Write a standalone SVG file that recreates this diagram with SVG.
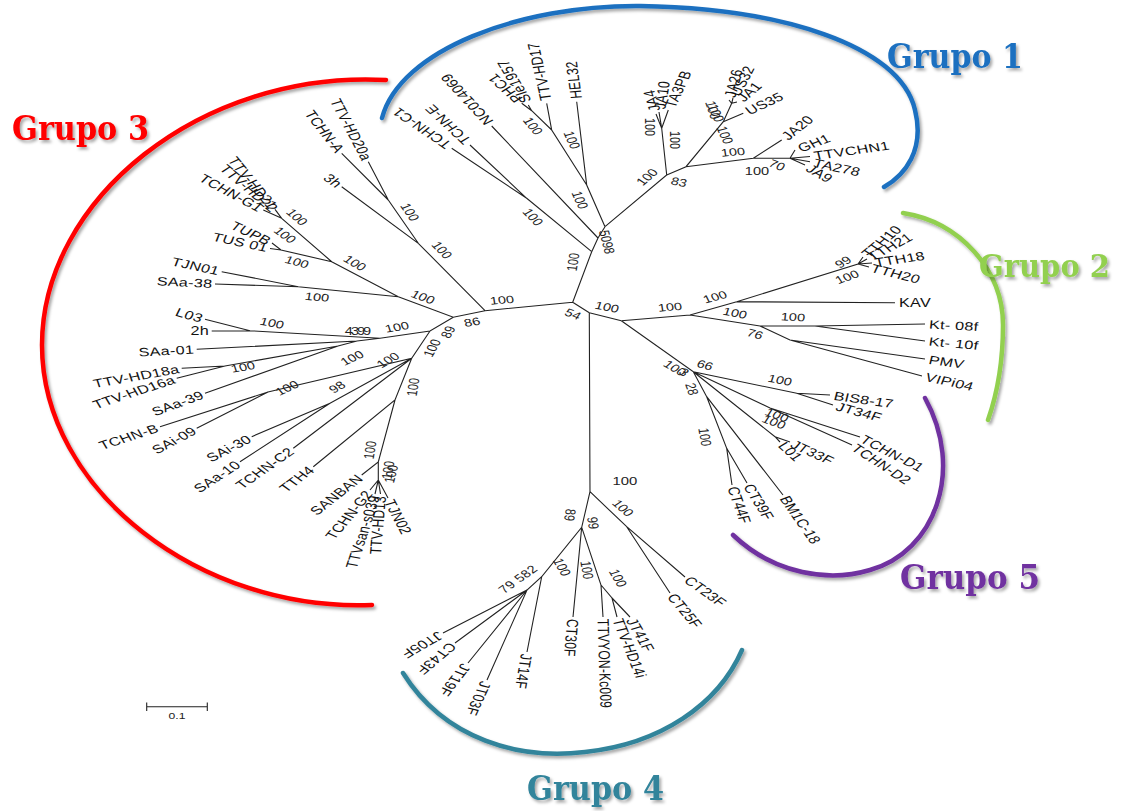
<svg xmlns="http://www.w3.org/2000/svg" width="1123" height="811" viewBox="0 0 1123 811">
<defs>
<filter id="sh" x="-10%" y="-10%" width="130%" height="130%"><feDropShadow dx="2" dy="2.5" stdDeviation="1.5" flood-color="#000" flood-opacity="0.35"/></filter>
<style>
.lf{font-family:"Liberation Sans",Arial,sans-serif;font-size:12px;letter-spacing:0.2px;fill:#111}
.e{text-anchor:end}
.bs{font-family:"Liberation Sans",Arial,sans-serif;font-size:10.8px;fill:#222;text-anchor:middle}
.ed{fill:none;stroke:#222;stroke-width:1.1}
.arc{fill:none;stroke-width:4.5;stroke-linecap:round;filter:url(#sh)}
.gl{font-family:"DejaVu Serif",serif;font-size:34px;font-weight:bold;filter:url(#sh)}
</style>
</defs>
<rect width="1123" height="811" fill="#fff"/>
<g id="arcs">
<path class="arc" stroke="#1b70c0" d="M382,118 C400,50 520,5 640,6 C780,8 900,45 915,110 C925,150 905,175 884,187"/>
<path class="arc" stroke="#92d050" d="M903,213 C960,222 1003,270 1003,325 C1003,370 995,400 988,420"/>
<path class="arc" stroke="#ff0000" d="M386,80 C200,70 42,200 42,345 C42,490 200,612 372,605"/>
<path class="arc" stroke="#31849b" d="M403,673 C445,740 520,760 585,752 C660,744 718,705 742,650"/>
<path class="arc" stroke="#7030a0" d="M733,535 C775,575 830,582 870,570 C935,552 965,470 925,398"/>
</g>
<g id="connectors">
<path class="ed" d="M572.7,302.3L589.3,312.7M589.3,312.7L590,491.7M589.3,312.7L621.3,320.7M572.7,302.3L485,310.7M572.7,302.3L591.7,251.7"/>
<path class="ed" d="M591.7,251.7L526.7,198.3L451.7,148.3M526.7,198.3L470,145M591.7,251.7L598,238L605,226.7M598,238L491.7,126M605,226.7L586.7,185L576.7,101.7M586.7,185L551.7,130L546.7,103.3M551.7,130L531.7,110.7L521.7,103.3M531.7,110.7L528.3,105M605,226.7L666.7,175L661.7,128.3L656,114M661.7,128.3L659,112M661.7,128.3L668.3,110M666.7,175L686,166.7L723.3,121.7L731.7,103.3L729,100M731.7,103.3L733,98M731.7,103.3L737,102M723.3,121.7L743.3,113.3M686,166.7L753.3,158.3L781.7,140M753.3,158.3L790,158.3L795,150M790,158.3L810,156.5M790,158.3L810,161.7M790,158.3L805,165"/>
<path class="ed" d="M485,310.7L418.3,243.3L341.7,186.7M418.3,243.3L388.3,200L368.3,161.7M388.3,200L341.7,153.3M485,310.7L453.3,317.3L398.3,296.7L331.7,261.7L281.7,218.3L275,209.3M281.7,218.3L276.7,211.7M281.7,218.3L263.3,210M331.7,261.7L281,250L272,243M281,250L270,248.5M398.3,296.7L298.3,286.7L221.7,271.7M298.3,286.7L215,284M453.3,317.3L430,331L380,338.3L250,330.7L205,319.3M250,330.7L211.7,331M380,338.3L357,341L196.7,349.3M357,341L338,346L225,366L181.7,368.3M225,366L176.7,378.3M338,346L205,393.3M430,331L411.7,358.3L268,392L160,426.7M268,392L196.7,428.3M411.7,358.3L330,403.3L251.7,436.7M330,403.3L240,461.7M411.7,358.3L293.3,448.3M411.7,358.3L395,400L313.3,466.7M395,400L378.3,462L361.7,475M378.3,462L378.3,480L370,490M378.3,480L375,494M378.3,480L380.5,494M378.3,480L388,498"/>
<path class="ed" d="M621.3,320.7L690,315L736.7,301.7L858,264L863,257M858,264L867,259M858,264L872,263M858,264L869,267M736.7,301.7L895,302.7M690,315L760,326L815,326L925,324M815,326L925,341M760,326L790,340L925,359M790,340L922,376M621.3,320.7L693.3,371.7L796.7,393.3L830,395M796.7,393.3L833,405M693.3,371.7L770,408L860,437M770,408L852,445M693.3,371.7L775,436.7L790,442M775,436.7L780,442M693.3,371.7L706.7,396.7L783,495M706.7,396.7L726.7,448.3L732,485M726.7,448.3L747,483"/>
<path class="ed" d="M590,491.7L581.7,527.3L541.7,576.7L527,652M541.7,576.7L527,590L487,680M527,590L468,663M527,590L455,643M527,590L443,633M581.7,527.3L573,617M581.7,527.3L601,585L603,617M601,585L612,598L617,617M612,598L630,617M590,491.7L626.7,526.7L685,577M626.7,526.7L670,593"/>
</g>
<g id="group1-leaves">
<g id="n-TCHN-C1"><text class="lf" transform="translate(451.7,148.3) scale(1.35,1) rotate(-137.7)" x="3" dy=".35em">TCHN-C1</text></g>
<g id="n-TCHN-E"><text class="lf" transform="translate(470,145) scale(1.35,1) rotate(-128.5)" x="3" dy=".35em">TCHN-E</text></g>
<g id="n-NC014069"><text class="lf" transform="translate(491.7,126) scale(1.35,1) rotate(-124.6)" x="3" dy=".35em">NC014069</text></g>
<g id="n-PHC1"><text class="lf" transform="translate(521.7,103.3) scale(1.35,1) rotate(-129.4)" x="3" dy=".35em">PHC1</text></g>
<g id="n-Sle1957"><text class="lf" transform="translate(528.3,105) scale(1.35,1) rotate(-114)" x="3" dy=".35em">Sle1957</text></g>
<g id="n-TTV-HD17"><text class="lf" transform="translate(546.7,103.3) scale(1.35,1) rotate(-99.7)" x="3" dy=".35em">TTV-HD17</text></g>
<g id="n-HEL32"><text class="lf" transform="translate(576.7,101.7) scale(1.35,1) rotate(-95.9)" x="3" dy=".35em">HEL32</text></g>
<g id="n-JA4"><text class="lf" transform="translate(656,114) scale(1.35,1) rotate(-103.5)" x="3" dy=".35em">JA4</text></g>
<g id="n-JA10"><text class="lf" transform="translate(659,112) scale(1.35,1) rotate(-82.6)" x="3" dy=".35em">JA10</text></g>
<g id="n-TA3PB"><text class="lf" transform="translate(668.3,110) scale(1.35,1) rotate(-71)" x="3" dy=".35em">TA3PB</text></g>
<g id="n-JA26"><text class="lf" transform="translate(729,100) scale(1.35,1) rotate(-78.8)" x="3" dy=".35em">JA26</text></g>
<g id="n-US32"><text class="lf" transform="translate(733,98) scale(1.35,1) rotate(-68.5)" x="3" dy=".35em">US32</text></g>
<g id="n-JA1"><text class="lf" transform="translate(737,102) scale(1.35,1) rotate(-48.6)" x="3" dy=".35em">JA1</text></g>
<g id="n-US35"><text class="lf" transform="translate(743.3,113.3) scale(1.35,1) rotate(-32.2)" x="3" dy=".35em">US35</text></g>
<g id="n-JA20"><text class="lf" transform="translate(781.7,140) scale(1.35,1) rotate(-46.5)" x="3" dy=".35em">JA20</text></g>
<g id="n-GH1"><text class="lf" transform="translate(795,150) scale(1.35,1) rotate(-26.2)" x="3" dy=".35em">GH1</text></g>
<g id="n-TTVCHN1"><text class="lf" transform="translate(810,156.5) scale(1.35,1) rotate(-10.7)" x="3" dy=".35em">TTVCHN1</text></g>
<g id="n-TA278"><text class="lf" transform="translate(810,161.7) scale(1.35,1) rotate(16)" x="3" dy=".35em">TA278</text></g>
<g id="n-JA9"><text class="lf" transform="translate(805,165) scale(1.35,1) rotate(37.9)" x="3" dy=".35em">JA9</text></g>
</g>
<g id="group2-leaves">
<g id="n-TTH10"><text class="lf" transform="translate(863,257) scale(1.35,1) rotate(-48.6)" x="2" dy=".35em">TTH10</text></g>
<g id="n-TTH21"><text class="lf" transform="translate(867,259) scale(1.35,1) rotate(-35.7)" x="2" dy=".35em">TTH21</text></g>
<g id="n-TTH18"><text class="lf" transform="translate(872,263) scale(1.35,1) rotate(-10.7)" x="2" dy=".35em">TTH18</text></g>
<g id="n-TTH20"><text class="lf" transform="translate(869,267) scale(1.35,1) rotate(18.6)" x="2" dy=".35em">TTH20</text></g>
<g id="n-KAV"><text class="lf" transform="translate(895,302.7) scale(1.35,1)" x="3" dy=".35em">KAV</text></g>
<g id="n-Kt-08f"><text class="lf" transform="translate(925,324) scale(1.35,1) rotate(4)" x="3" dy=".35em">Kt- 08f</text></g>
<g id="n-Kt-10f"><text class="lf" transform="translate(925,341) scale(1.35,1) rotate(6.7)" x="3" dy=".35em">Kt- 10f</text></g>
<g id="n-PMV"><text class="lf" transform="translate(925,359) scale(1.35,1) rotate(10.7)" x="3" dy=".35em">PMV</text></g>
<g id="n-VIPi04"><text class="lf" transform="translate(922,376) scale(1.35,1) rotate(16)" x="3" dy=".35em">VIPi04</text></g>
</g>
<g id="group5-leaves">
<g id="n-BIS8-17"><text class="lf" transform="translate(830,395) scale(1.35,1) rotate(10.7)" x="3" dy=".35em">BIS8-17</text></g>
<g id="n-JT34F"><text class="lf" transform="translate(833,405) scale(1.35,1) rotate(19.9)" x="3" dy=".35em">JT34F</text></g>
<g id="n-TCHN-D1"><text class="lf" transform="translate(860,437) scale(1.35,1) rotate(34.5)" x="2" dy=".35em">TCHN-D1</text></g>
<g id="n-TCHN-D2"><text class="lf" transform="translate(852,445) scale(1.35,1) rotate(41.2)" x="2" dy=".35em">TCHN-D2</text></g>
<g id="n-JT33F"><text class="lf" transform="translate(790,442) scale(1.35,1) rotate(32.2)" x="2" dy=".35em">JT33F</text></g>
<g id="n-L01"><text class="lf" transform="translate(780,442) scale(1.35,1) rotate(50.6)" x="2" dy=".35em">L01</text></g>
<g id="n-BM1C-18"><text class="lf" transform="translate(783,495) scale(1.35,1) rotate(62.6)" x="2" dy=".35em">BM1C-18</text></g>
<g id="n-CT39F"><text class="lf" transform="translate(747,483) scale(1.35,1) rotate(65.2)" x="2" dy=".35em">CT39F</text></g>
<g id="n-CT44F"><text class="lf" transform="translate(732,485) scale(1.35,1) rotate(74.9)" x="2" dy=".35em">CT44F</text></g>
</g>
<g id="group4-leaves">
<g id="n-CT23F"><text class="lf" transform="translate(685,577) scale(1.35,1) rotate(43.4)" x="2" dy=".35em">CT23F</text></g>
<g id="n-CT25F"><text class="lf" transform="translate(670,593) scale(1.35,1) rotate(58.1)" x="2" dy=".35em">CT25F</text></g>
<g id="n-JT41F"><text class="lf" transform="translate(630,617) scale(1.35,1) rotate(66.8)" x="2" dy=".35em">JT41F</text></g>
<g id="n-TTV-HD14i"><text class="lf" transform="translate(617,617) scale(1.35,1) rotate(73.3)" x="2" dy=".35em">TTV-HD14i</text></g>
<g id="n-TTVYON-Kc009"><text class="lf" transform="translate(603,617) scale(1.35,1) rotate(88.5)" x="2" dy=".35em">TTVYON-Kc009</text></g>
<g id="n-CT30F"><text class="lf" transform="translate(573,617) scale(1.35,1) rotate(93.7)" x="2" dy=".35em">CT30F</text></g>
<g id="n-JT14F"><text class="lf" transform="translate(527,652) scale(1.35,1) rotate(97.4)" x="2" dy=".35em">JT14F</text></g>
<g id="n-JT03F"><text class="lf" transform="translate(487,680) scale(1.35,1) rotate(109)" x="2" dy=".35em">JT03F</text></g>
<g id="n-JT19F"><text class="lf" transform="translate(468,663) scale(1.35,1) rotate(120)" x="2" dy=".35em">JT19F</text></g>
<g id="n-CT43F"><text class="lf" transform="translate(455,643) scale(1.35,1) rotate(131.4)" x="2" dy=".35em">CT43F</text></g>
<g id="n-JT05F"><text class="lf" transform="translate(443,633) scale(1.35,1) rotate(142)" x="2" dy=".35em">JT05F</text></g>
</g>
<g id="group3-leaves">
<g id="n-TTV-HD20a"><text class="lf e" transform="translate(368.3,161.7) scale(1.35,1) rotate(68.5)" x="-2" dy=".35em">TTV-HD20a</text></g>
<g id="n-TCHN-A"><text class="lf e" transform="translate(341.7,153.3) scale(1.35,1) rotate(59.9)" x="-2" dy=".35em">TCHN-A</text></g>
<g id="n-3h"><text class="lf e" transform="translate(341.7,186.7) scale(1.35,1) rotate(43.4)" x="-2" dy=".35em">3h</text></g>
<g id="n-TTV-HD21"><text class="lf e" transform="translate(275,209.3) scale(1.35,1) rotate(58.1)" x="-2" dy=".35em">TTV-HD21</text></g>
<g id="n-TTV-HD22"><text class="lf e" transform="translate(276.7,211.7) scale(1.35,1) rotate(48.6)" x="-2" dy=".35em">TTV-HD22</text></g>
<g id="n-TCHN-G1"><text class="lf e" transform="translate(263.3,210) scale(1.35,1) rotate(35.7)" x="-2" dy=".35em">TCHN-G1</text></g>
<g id="n-TUPB"><text class="lf e" transform="translate(272,243) scale(1.35,1) rotate(32.2)" x="-2" dy=".35em">TUPB</text></g>
<g id="n-TUS01"><text class="lf e" transform="translate(270,248.5) scale(1.35,1) rotate(16)" x="-2" dy=".35em">TUS 01</text></g>
<g id="n-TJN01"><text class="lf e" transform="translate(221.7,271.7) scale(1.35,1) rotate(16)" x="-2" dy=".35em">TJN01</text></g>
<g id="n-SAa-38"><text class="lf e" transform="translate(215,284) scale(1.35,1) rotate(4)" x="-2" dy=".35em">SAa-38</text></g>
<g id="n-L03"><text class="lf e" transform="translate(205,319.3) scale(1.35,1) rotate(19.9)" x="-2" dy=".35em">L03</text></g>
<g id="n-2h"><text class="lf e" transform="translate(211.7,331) scale(1.35,1)" x="-2" dy=".35em">2h</text></g>
<g id="n-SAa-01"><text class="lf e" transform="translate(196.7,349.3) scale(1.35,1) rotate(-4)" x="-2" dy=".35em">SAa-01</text></g>
<g id="n-TTV-HD18a"><text class="lf e" transform="translate(181.7,368.3) scale(1.35,1) rotate(-13.4)" x="-2" dy=".35em">TTV-HD18a</text></g>
<g id="n-TTV-HD16a"><text class="lf e" transform="translate(176.7,378.3) scale(1.35,1) rotate(-23.7)" x="-2" dy=".35em">TTV-HD16a</text></g>
<g id="n-SAa-39"><text class="lf e" transform="translate(205,393.3) scale(1.35,1) rotate(-26.2)" x="-2" dy=".35em">SAa-39</text></g>
<g id="n-TCHN-B"><text class="lf e" transform="translate(160,426.7) scale(1.35,1) rotate(-23.7)" x="-2" dy=".35em">TCHN-B</text></g>
<g id="n-SAi-09"><text class="lf e" transform="translate(196.7,428.3) scale(1.35,1) rotate(-35.7)" x="-2" dy=".35em">SAi-09</text></g>
<g id="n-SAi-30"><text class="lf e" transform="translate(251.7,436.7) scale(1.35,1) rotate(-34.5)" x="-2" dy=".35em">SAi-30</text></g>
<g id="n-SAa-10"><text class="lf e" transform="translate(240,461.7) scale(1.35,1) rotate(-41.2)" x="-2" dy=".35em">SAa-10</text></g>
<g id="n-TCHN-C2"><text class="lf e" transform="translate(293.3,448.3) scale(1.35,1) rotate(-43.4)" x="-2" dy=".35em">TCHN-C2</text></g>
<g id="n-TTH4"><text class="lf e" transform="translate(313.3,466.7) scale(1.35,1) rotate(-45.5)" x="-2" dy=".35em">TTH4</text></g>
<g id="n-SANBAN"><text class="lf e" transform="translate(361.7,475) scale(1.35,1) rotate(-46.5)" x="-2" dy=".35em">SANBAN</text></g>
<g id="n-TCHN-G2"><text class="lf e" transform="translate(370,490) scale(1.35,1) rotate(-58.1)" x="-2" dy=".35em">TCHN-G2</text></g>
<g id="n-TTVsan-s039"><text class="lf e" transform="translate(375,494) scale(1.35,1) rotate(-76.5)" x="-2" dy=".35em">TTVsan-s039</text></g>
<g id="n-TTV-HD13"><text class="lf e" transform="translate(380.5,494) scale(1.35,1) rotate(-86.3)" x="-2" dy=".35em">TTV-HD13</text></g>
<g id="n-TJN02"><text class="lf" transform="translate(388,498) scale(1.35,1) rotate(68.5)" x="2" dy=".35em">TJN02</text></g>
</g>
<g id="bootstrap">
<text class="bs" transform="translate(533,217) scale(1.35,1) rotate(53.5)" dy=".35em">100</text>
<text class="bs" transform="translate(573,262) scale(1.35,1) rotate(-82.6)" dy=".35em">100</text>
<text class="bs" transform="translate(607,242) scale(1.35,1) rotate(78.8)" dy=".35em">5098</text>
<text class="bs" transform="translate(580,200) scale(1.35,1) rotate(71)" dy=".35em">100</text>
<text class="bs" transform="translate(572,140) scale(1.35,1) rotate(71)" dy=".35em">100</text>
<text class="bs" transform="translate(533,126) scale(1.35,1) rotate(58.1)" dy=".35em">100</text>
<text class="bs" transform="translate(647,177) scale(1.35,1) rotate(-48.6)" dy=".35em">100</text>
<text class="bs" transform="translate(679,182) scale(1.35,1) rotate(13.4)" dy=".35em">83</text>
<text class="bs" transform="translate(650,127) scale(1.35,1) rotate(90)" dy=".35em">100</text>
<text class="bs" transform="translate(675,140) scale(1.35,1) rotate(90)" dy=".35em">100</text>
<text class="bs" transform="translate(725,135) scale(1.35,1) rotate(71)" dy=".35em">100</text>
<text class="bs" transform="translate(713,110) scale(1.35,1) rotate(74.9)" dy=".35em">100</text>
<text class="bs" transform="translate(716,113) scale(1.35,1) rotate(71)" dy=".35em">100</text>
<text class="bs" transform="translate(733,152) scale(1.35,1) rotate(-6.7)" dy=".35em">100</text>
<text class="bs" transform="translate(757,171) scale(1.35,1)" dy=".35em">100</text>
<text class="bs" transform="translate(777,165) scale(1.35,1) rotate(26.2)" dy=".35em">70</text>
<text class="bs" transform="translate(410,212) scale(1.35,1) rotate(62.6)" dy=".35em">100</text>
<text class="bs" transform="translate(442,250) scale(1.35,1) rotate(53.5)" dy=".35em">100</text>
<text class="bs" transform="translate(297,217) scale(1.35,1) rotate(48.6)" dy=".35em">100</text>
<text class="bs" transform="translate(285,235) scale(1.35,1) rotate(43.4)" dy=".35em">100</text>
<text class="bs" transform="translate(297,262) scale(1.35,1) rotate(19.9)" dy=".35em">100</text>
<text class="bs" transform="translate(355,263) scale(1.35,1) rotate(37.9)" dy=".35em">100</text>
<text class="bs" transform="translate(317,297) scale(1.35,1) rotate(6.7)" dy=".35em">100</text>
<text class="bs" transform="translate(423,297) scale(1.35,1) rotate(26.2)" dy=".35em">100</text>
<text class="bs" transform="translate(502,300) scale(1.35,1) rotate(-6.7)" dy=".35em">100</text>
<text class="bs" transform="translate(472,322) scale(1.35,1) rotate(-13.4)" dy=".35em">86</text>
<text class="bs" transform="translate(448,332) scale(1.35,1) rotate(-66.8)" dy=".35em">89</text>
<text class="bs" transform="translate(397,327) scale(1.35,1) rotate(-13.4)" dy=".35em">100</text>
<text class="bs" transform="translate(432,348) scale(1.35,1) rotate(-66.8)" dy=".35em">100</text>
<text class="bs" transform="translate(413,387) scale(1.35,1) rotate(-82.6)" dy=".35em">100</text>
<text class="bs" transform="translate(357,331) scale(1.35,1)" dy=".35em" letter-spacing="-1.5">4399</text>
<text class="bs" transform="translate(272,323) scale(1.35,1) rotate(13.4)" dy=".35em">100</text>
<text class="bs" transform="translate(243,367) scale(1.35,1) rotate(-13.4)" dy=".35em">100</text>
<text class="bs" transform="translate(352,358) scale(1.35,1) rotate(-32.2)" dy=".35em">100</text>
<text class="bs" transform="translate(388,360) scale(1.35,1) rotate(-37.9)" dy=".35em">100</text>
<text class="bs" transform="translate(337,387) scale(1.35,1) rotate(-37.9)" dy=".35em">98</text>
<text class="bs" transform="translate(287,388) scale(1.35,1) rotate(-32.2)" dy=".35em">100</text>
<text class="bs" transform="translate(370,450) scale(1.35,1) rotate(-82.6)" dy=".35em">100</text>
<text class="bs" transform="translate(388,470) scale(1.35,1) rotate(-82.6)" dy=".35em">100</text>
<text class="bs" transform="translate(391,474) scale(1.35,1) rotate(-78.8)" dy=".35em">100</text>
<text class="bs" transform="translate(573,314) scale(1.35,1) rotate(26.2)" dy=".35em">54</text>
<text class="bs" transform="translate(607,307) scale(1.35,1) rotate(13.4)" dy=".35em">100</text>
<text class="bs" transform="translate(670,307) scale(1.35,1) rotate(-6.7)" dy=".35em">100</text>
<text class="bs" transform="translate(715,297) scale(1.35,1) rotate(-19.9)" dy=".35em">100</text>
<text class="bs" transform="translate(735,313) scale(1.35,1) rotate(13.4)" dy=".35em">100</text>
<text class="bs" transform="translate(793,317) scale(1.35,1) rotate(4)" dy=".35em">100</text>
<text class="bs" transform="translate(755,334) scale(1.35,1) rotate(19.9)" dy=".35em">76</text>
<text class="bs" transform="translate(843,262) scale(1.35,1) rotate(-37.9)" dy=".35em">99</text>
<text class="bs" transform="translate(847,277) scale(1.35,1) rotate(-26.2)" dy=".35em">100</text>
<text class="bs" transform="translate(675,368) scale(1.35,1) rotate(37.9)" dy=".35em">100</text>
<text class="bs" transform="translate(684,372) scale(1.35,1) rotate(37.9)" dy=".35em">3</text>
<text class="bs" transform="translate(705,365) scale(1.35,1) rotate(19.9)" dy=".35em">66</text>
<text class="bs" transform="translate(692,389) scale(1.35,1) rotate(74.9)" dy=".35em">28</text>
<text class="bs" transform="translate(780,380) scale(1.35,1) rotate(13.4)" dy=".35em">100</text>
<text class="bs" transform="translate(777,415) scale(1.35,1) rotate(26.2)" dy=".35em">100</text>
<text class="bs" transform="translate(774,422) scale(1.35,1) rotate(26.2)" dy=".35em">100</text>
<text class="bs" transform="translate(705,437) scale(1.35,1) rotate(82.6)" dy=".35em">100</text>
<text class="bs" transform="translate(625,481) scale(1.35,1)" dy=".35em" style="font-size:11px">100</text>
<text class="bs" transform="translate(623,508) scale(1.35,1) rotate(48.6)" dy=".35em">100</text>
<text class="bs" transform="translate(570,515) scale(1.35,1) rotate(97.4)" dy=".35em">89</text>
<text class="bs" transform="translate(593,523) scale(1.35,1) rotate(82.6)" dy=".35em">99</text>
<text class="bs" transform="translate(562,567) scale(1.35,1) rotate(66.8)" dy=".35em">100</text>
<text class="bs" transform="translate(587,570) scale(1.35,1) rotate(82.6)" dy=".35em">100</text>
<text class="bs" transform="translate(618,578) scale(1.35,1) rotate(66.8)" dy=".35em">100</text>
<text class="bs" transform="translate(518,579) scale(1.35,1) rotate(-43.4)" dy=".35em" letter-spacing="0.4">79 582</text>
</g>
<g id="scale">
<path class="ed" d="M146.7,706.7H207.3M146.7,702.5V711M207.3,702.5V711"/>
<text class="bs" transform="translate(177,719) scale(1.35,1)" style="font-size:9px">0.1</text>
</g>
<g id="labels">
<text class="gl" fill="#1b70c0" x="887" y="68" textLength="136" lengthAdjust="spacingAndGlyphs">Grupo 1</text>
<text class="gl" fill="#92d050" x="979" y="277" textLength="131" lengthAdjust="spacingAndGlyphs" style="font-size:31px">Grupo 2</text>
<text class="gl" fill="#ff0000" x="12" y="140" textLength="137" lengthAdjust="spacingAndGlyphs">Grupo 3</text>
<text class="gl" fill="#31849b" x="527" y="800" textLength="137" lengthAdjust="spacingAndGlyphs">Grupo 4</text>
<text class="gl" fill="#7030a0" x="900" y="589" textLength="140" lengthAdjust="spacingAndGlyphs">Grupo 5</text>
</g>
</svg>
